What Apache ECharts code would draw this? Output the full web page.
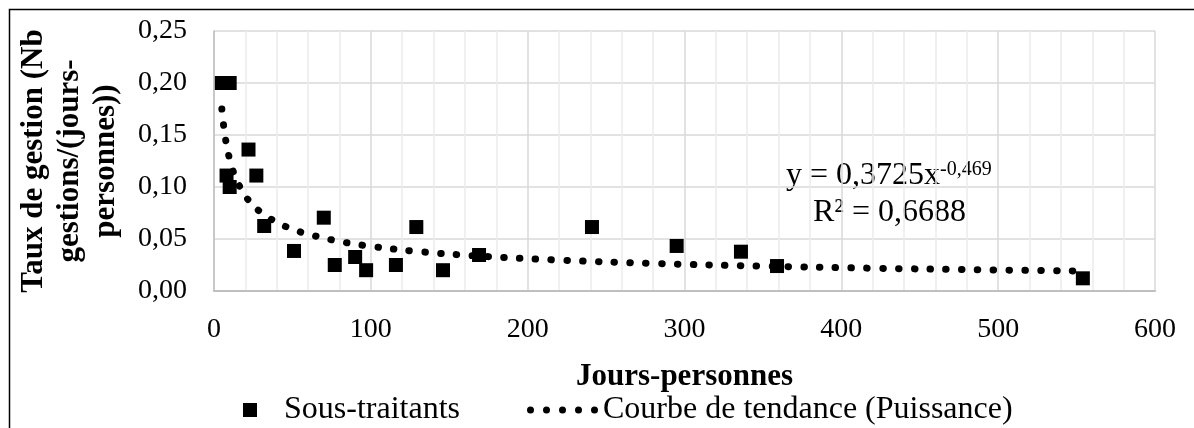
<!DOCTYPE html>
<html>
<head>
<meta charset="utf-8">
<script src="https://cdn.jsdelivr.net/npm/echarts@6/dist/echarts.min.js"></script>
<style>
  html, body { margin: 0; padding: 0; background: #fff; }
  #chart { width: 1194px; height: 428px; }
</style>
</head>
<body>
<div id="chart"></div>
<script>
// Sous-traitants: jours-personnes vs taux de gestion
const jours = [5, 10, 22, 8, 10, 27, 32, 51, 70, 77, 90, 97, 116, 129, 146, 169, 241, 295, 336, 359, 554];
const taux = [0.200, 0.200, 0.136, 0.111, 0.100, 0.111, 0.0625, 0.0385, 0.0705, 0.025, 0.0327, 0.020, 0.025, 0.0615, 0.020, 0.0346, 0.0615, 0.0433, 0.0378, 0.024, 0.0122];

// trend curve values (y = 0,3725x^-0,469)
const trendX = [5, 6, 7, 8, 10, 12, 15, 20, 25, 30, 40, 50, 60, 80, 100, 130, 170, 220, 280, 350, 420, 490, 554];
const trendY = [0.1751, 0.1608, 0.1496, 0.1405, 0.1265, 0.1161, 0.1046, 0.0914, 0.0823, 0.0756, 0.0660, 0.0595, 0.0546, 0.0477, 0.0430, 0.0380, 0.0335, 0.0297, 0.0265, 0.0239, 0.0219, 0.0204, 0.0192];

const yTicks = ['0,00', '0,05', '0,10', '0,15', '0,20', '0,25'];

const FONT = '"Liberation Serif", "Times New Roman", serif';
// five dots for the trend legend icon
const DOTS_ICON = 'path://' + [3.5, 19.5, 35.5, 51.5, 67.5].map(c =>
  `M${c - 3.5},3.5A3.5,3.5 0 1,1 ${c + 3.5},3.5A3.5,3.5 0 1,1 ${c - 3.5},3.5Z`).join(' ');

const chart = echarts.init(document.getElementById('chart'));
chart.setOption({
  animation: false,
  textStyle: { fontFamily: FONT, color: '#000' },
  grid: { left: 214, right: 39, top: 31, bottom: 137, containLabel: false, outerBoundsMode: 'none' },
  legend: [
    {
      data: ['Sous-traitants'],
      left: 238, top: 389,
      itemWidth: 14, itemHeight: 14,
      textStyle: { fontFamily: FONT, fontSize: 32, color: '#000', padding: [0, 0, 0, 22] }
    },
    {
      data: [{ name: 'Courbe de tendance (Puissance)', icon: DOTS_ICON }],
      left: 522, top: 389,
      itemWidth: 71, itemHeight: 7,
      itemStyle: { color: '#000', borderWidth: 0 },
      lineStyle: { width: 0 },
      textStyle: { fontFamily: FONT, fontSize: 32, color: '#000', padding: [0, 0, 0, 0] }
    }
  ],
  xAxis: {
    type: 'value', min: 0, max: 600, interval: 100,
    name: 'Jours-personnes', nameLocation: 'middle', nameGap: 70,
    nameTextStyle: { fontFamily: FONT, fontSize: 31, fontWeight: 'bold', color: '#000' },
    axisLine: { show: true, lineStyle: { color: '#bfbfbf', width: 2 } },
    axisTick: { show: false },
    axisLabel: { fontFamily: FONT, fontSize: 28, color: '#000', margin: 25 },
    splitLine: { show: true, lineStyle: { color: '#d9d9d9', width: 1.5 } },
    minorTick: { show: false, splitNumber: 5 },
    minorSplitLine: { show: true, lineStyle: { color: '#ececec', width: 1.5 } }
  },
  yAxis: {
    type: 'value', min: 0, max: 0.25, interval: 0.05,
    name: 'Taux de gestion (Nb\ngestions/(jours-\npersonnes))',
    nameLocation: 'middle', nameRotate: 90, nameGap: 90,
    nameTextStyle: { fontFamily: FONT, fontSize: 31, fontWeight: 'bold', color: '#000', lineHeight: 36 },
    axisLine: { show: true, lineStyle: { color: '#bfbfbf', width: 1.5 } },
    axisTick: { show: false },
    axisLabel: {
      fontFamily: FONT, fontSize: 28, color: '#000', margin: 27,
      formatter: (v) => yTicks[Math.round(v / 0.05)]
    },
    splitLine: { show: true, lineStyle: { color: '#d9d9d9', width: 1.5 } }
  },
  series: [
    {
      name: 'Sous-traitants',
      type: 'scatter',
      symbol: 'rect',
      symbolSize: 14,
      itemStyle: { color: '#000', opacity: 1 },
      data: jours.map((x, i) => [x, taux[i]]),
      z: 2
    },
    {
      name: 'Courbe de tendance (Puissance)',
      type: 'line',
      smooth: 0.4,
      showSymbol: false,
      symbol: 'none',
      itemStyle: { color: '#000' },
      lineStyle: { color: '#000', width: 7, type: [0.5, 15.3], cap: 'round', join: 'round' },
      data: trendX.map((x, i) => [x, trendY[i]]),
      z: 3
    }
  ],
  graphic: [
    {
      type: 'rect', left: 7, top: 7, silent: true,
      shape: { width: 1220, height: 450 },
      style: { fill: 'none', stroke: '#000', lineWidth: 1.5 }
    },
    {
      type: 'text', left: 786, top: 160,
      style: {
        text: '{b|y = 0,3725x}{s|-0,469}',
        rich: {
          b: { fontFamily: FONT, fontSize: 32, fill: '#000', verticalAlign: 'bottom' },
          s: { fontFamily: FONT, fontSize: 20, fill: '#000', verticalAlign: 'top' }
        }
      }
    },
    {
      type: 'text', left: 813, top: 197,
      style: { text: 'R² = 0,6688', fontFamily: FONT, fontSize: 32, fill: '#000' }
    }
  ]
});
</script>
</body>
</html>
